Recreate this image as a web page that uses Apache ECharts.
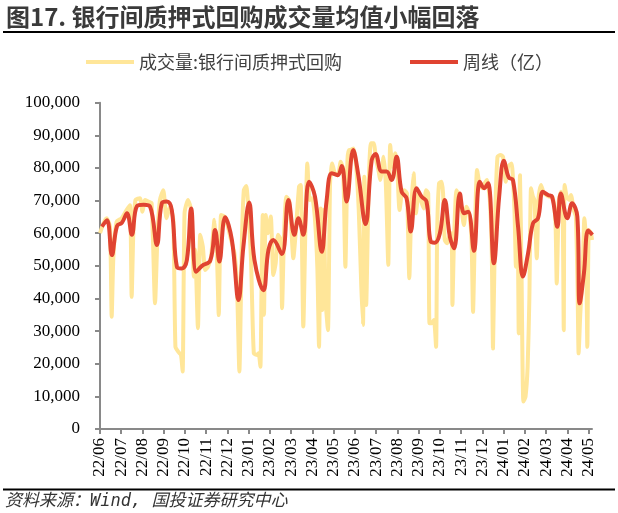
<!DOCTYPE html>
<html><head><meta charset="utf-8">
<script src="https://cdn.jsdelivr.net/npm/echarts@6/dist/echarts.min.js"></script>
<style>html,body{margin:0;padding:0;background:#fff}#c{width:618px;height:513px}</style>
</head><body><div id="c"></div>
<script>
// Month tick labels (index 0 = 2022-06)
const tickLabels = ['22/06','22/07','22/08','22/09','22/10','22/11','22/12','23/01','23/02','23/03','23/04','23/05','23/06','23/07','23/08','23/09','23/10','23/11','23/12','24/01','24/02','24/03','24/04','24/05'];
const legendNames = ['成交量:银行间质押式回购', '周线（亿）'];
// Daily volume: [month offset from 2022-06, value]
const dailyVolume = [
[0.00,60000],[0.16,63000],[0.31,64600],[0.47,62000],[0.55,34400],[0.63,52800],[0.78,63500],[1.02,64600],[1.25,67100],[1.41,68600],
[1.49,40500],[1.57,60500],[1.67,70200],[1.88,70700],[2.00,66600],[2.12,70200],[2.27,69700],[2.43,69200],[2.59,38500],[2.71,60000],
[2.82,70200],[2.98,73200],[3.13,64600],[3.29,68100],[3.45,64100],[3.55,25200],[3.68,23700],[3.81,22700],[3.89,17600],[3.98,66100],
[4.14,70200],[4.29,67100],[4.42,46700],[4.48,54900],[4.61,30900],[4.72,59500],[4.84,55900],[4.95,48700],[5.08,49700],[5.23,52800],
[5.39,64100],[5.51,51800],[5.59,34900],[5.70,65600],[5.86,65100],[6.02,62000],[6.17,57900],[6.33,53800],[6.45,43600],[6.56,17600],
[6.68,57900],[6.77,73200],[6.88,74500],[6.99,67100],[7.11,51800],[7.24,23200],[7.40,22700],[7.47,23200],[7.55,19100],[7.60,41600],
[7.66,65600],[7.72,35000],[7.80,65600],[7.91,60000],[8.04,65100],[8.16,47200],[8.27,50800],[8.38,59500],[8.51,57900],[8.57,37000],
[8.66,58900],[8.77,71200],[8.90,70200],[9.01,61000],[9.10,52300],[9.21,60000],[9.37,74300],[9.45,74800],[9.57,31400],[9.68,65100],
[9.76,81400],[9.87,70200],[9.99,70700],[10.11,65100],[10.23,49700],[10.31,25200],[10.39,67600],[10.46,36500],[10.54,67100],[10.62,39500],
[10.73,30300],[10.83,75300],[10.93,81400],[11.05,78400],[11.20,77800],[11.33,81900],[11.45,79400],[11.55,49700],[11.65,82400],[11.72,85500],
[11.78,85500],[11.94,86000],[12.06,80400],[12.18,67100],[12.30,43600],[12.38,31900],[12.44,77300],[12.53,38000],[12.65,75300],[12.75,87600],
[12.88,87600],[13.00,82400],[13.12,78900],[13.19,76300],[13.35,83400],[13.46,74300],[13.57,50300],[13.66,87000],[13.77,80400],[13.90,84500],
[13.98,81400],[14.10,67100],[14.21,72200],[14.32,73200],[14.45,72200],[14.56,46200],[14.65,67100],[14.76,78400],[14.87,66100],[15.00,72200],
[15.10,70200],[15.23,67600],[15.35,73200],[15.45,72200],[15.51,32400],[15.61,32400],[15.72,33400],[15.82,25200],[15.87,60000],[15.96,75300],
[16.08,75800],[16.15,72200],[16.23,57900],[16.34,56900],[16.44,58900],[16.55,60000],[16.59,38000],[16.66,56900],[16.78,73200],[16.91,71200],
[17.02,67100],[17.13,62500],[17.25,68100],[17.38,66100],[17.49,57900],[17.56,35900],[17.64,57900],[17.75,79400],[17.88,74800],[18.01,73800],
[18.11,75300],[18.22,76300],[18.35,70200],[18.44,54900],[18.50,24700],[18.60,64100],[18.71,83400],[18.85,84000],[18.97,83400],[19.10,75800],
[19.21,80400],[19.37,81400],[19.51,67100],[19.58,49700],[19.66,61000],[19.71,29300],[19.77,77800],[19.84,49700],[19.93,8400],[20.03,9900],
[20.13,19100],[20.21,39500],[20.29,73800],[20.38,71200],[20.45,70200],[20.56,52300],[20.65,71200],[20.76,74800],[20.87,72700],[21.00,71700],
[21.15,71200],[21.31,71200],[21.44,63500],[21.50,44600],[21.60,70200],[21.70,72700],[21.78,67100],[21.83,30300],[21.87,74800],[21.97,71200],
[22.09,70200],[22.17,71700],[22.30,67100],[22.40,65100],[22.48,43600],[22.53,23200],[22.61,35500],[22.73,49700],[22.80,64600],[22.88,57900],
[22.94,25200],[23.01,61000],[23.11,60000],[23.16,57900]
];
// Weekly average: [month offset from 2022-06, value]
const weeklyAvg = [
[0.09,62000],[0.33,64000],[0.56,53300],[0.80,62200],[1.03,63200],[1.27,66100],[1.50,59500],[1.74,68300],[2.05,68700],[2.36,68100],
[2.68,56400],[2.91,69200],[3.15,69700],[3.38,67100],[3.62,49700],[3.85,49200],[4.09,51800],[4.29,67600],[4.53,48200],[4.80,50000],
[5.19,51600],[5.42,61000],[5.62,51300],[5.89,64900],[6.21,57900],[6.52,39500],[6.75,55900],[7.02,69400],[7.27,51800],[7.69,42500],
[7.93,54900],[8.16,57900],[8.56,53600],[8.87,70200],[9.15,59500],[9.34,64600],[9.57,59500],[9.84,75800],[10.12,71200],[10.44,54300],
[10.67,70200],[10.91,78400],[11.19,77800],[11.38,80600],[11.61,69700],[11.92,85500],[12.16,77800],[12.50,62800],[12.79,82400],[12.97,84300],
[13.26,78900],[13.49,78900],[13.73,76300],[13.96,83400],[14.20,72700],[14.43,70700],[14.63,60500],[14.90,73800],[15.14,71200],[15.37,69700],
[15.57,57400],[15.76,57100],[16.00,60000],[16.23,70200],[16.47,58900],[16.67,55400],[16.94,72200],[17.14,66100],[17.33,66600],[17.60,54600],
[17.88,75800],[18.08,73800],[18.27,75300],[18.54,50800],[18.79,71200],[19.01,82200],[19.24,77100],[19.44,76300],[19.68,62000],[19.91,46700],
[20.15,53800],[20.38,63000],[20.62,64600],[20.85,72700],[21.09,71700],[21.28,71200],[21.53,62000],[21.69,72200],[22.00,64600],[22.22,69200],
[22.47,65100],[22.58,38500],[22.78,47700],[22.98,60800],[23.18,59500]
];

const tickIdx = tickLabels.map((_, i) => i);
const axisColor = '#898989';
const serif = "'Liberation Serif', 'Times New Roman', serif";
const chart = echarts.init(document.getElementById('c'), null, {renderer: 'canvas'});
chart.setOption({
  animation: false,
  title: {
    text: '图17. 银行间质押式回购成交量均值小幅回落',
    left: 6, top: 5, padding: 0,
    textStyle: {fontFamily: 'Noto Sans CJK SC', fontSize: 24, fontWeight: 'bold', color: '#3a3a3a', lineHeight: 24}
  },
  legend: {
    left: 81, top: 48, itemWidth: 48, itemHeight: 4, itemGap: 68, icon: 'rect',
    textStyle: {fontFamily: 'Noto Sans CJK SC', fontSize: 18, color: '#404040'},
    data: legendNames
  },
  grid: {left: 100, right: 26, top: 102.7, bottom: 84},
  xAxis: {
    type: 'value', min: 0, max: 23.16,
    axisLine: {lineStyle: {color: axisColor, width: 2}},
    axisTick: {show: true, length: 5, customValues: tickIdx, lineStyle: {color: axisColor, width: 2}},
    axisLabel: {customValues: tickIdx, rotate: 90, margin: 9, fontFamily: serif, fontSize: 17, color: '#000',
      formatter: v => tickLabels[Math.round(v)] || ''},
    splitLine: {show: false}
  },
  yAxis: {
    type: 'value', min: 0, max: 100000, interval: 10000,
    axisLine: {show: true, lineStyle: {color: axisColor, width: 2}},
    axisTick: {show: true, length: 5, lineStyle: {color: axisColor, width: 2}},
    axisLabel: {margin: 20, fontFamily: serif, fontSize: 17, color: '#000',
      formatter: v => v.toLocaleString('en-US')},
    splitLine: {show: false}
  },
  series: [
    {name: legendNames[0], type: 'line', data: dailyVolume, symbol: 'none', smooth: 0.2,
      lineStyle: {color: '#FFE699', width: 4, join: 'round'}, itemStyle: {color: '#FFE699'}},
    {name: legendNames[1], type: 'line', data: weeklyAvg, symbol: 'none', smooth: 0.4,
      lineStyle: {color: '#E04331', width: 4, join: 'round'}, itemStyle: {color: '#E04331'}}
  ],
  graphic: [
    {type: 'line', shape: {x1: 3, y1: 32, x2: 615, y2: 32}, style: {stroke: '#000', lineWidth: 2}},
    {type: 'line', shape: {x1: 3, y1: 489.5, x2: 615, y2: 489.5}, style: {stroke: '#000', lineWidth: 2}},
    {type: 'text', left: 5, top: 493, style: {text: '资料来源：Wind, 国投证券研究中心', fontFamily: "'DejaVu Sans Mono','Noto Sans CJK SC'", fontStyle: 'italic', fontSize: 17, fill: '#333'}}
  ]
});
</script>
</body></html>
